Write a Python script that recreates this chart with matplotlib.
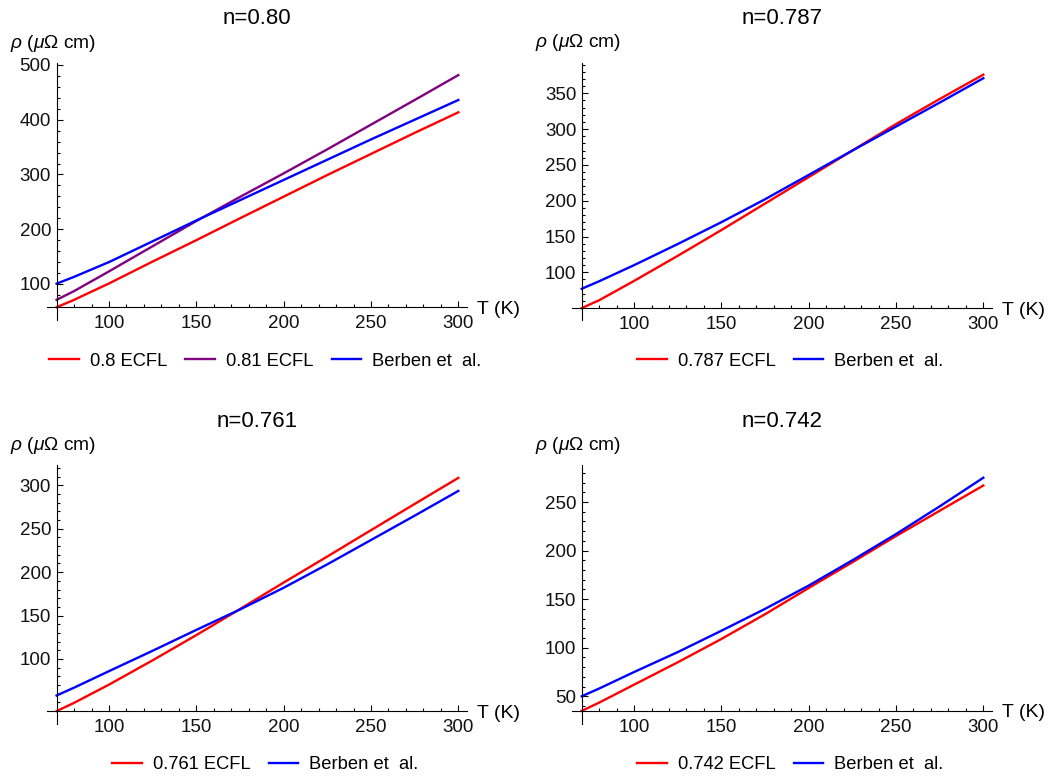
import numpy as np
import matplotlib
matplotlib.use('Agg')
import matplotlib.pyplot as plt
from matplotlib.ticker import FixedLocator

plt.rcParams['font.family'] = ['Liberation Sans', 'DejaVu Sans']
plt.rcParams['mathtext.fontset'] = 'custom'
plt.rcParams['mathtext.rm'] = 'Liberation Sans'
plt.rcParams['mathtext.it'] = 'Liberation Sans:italic'

# temperature grid (K) and resistivity values (micro-ohm cm)
T = [70, 80, 100, 125, 150, 175, 200, 225, 250, 275, 300]

ecfl_080 = [57.5, 71, 101, 141, 180, 220, 259.5, 299, 337.5, 376, 413.5]
ecfl_081 = [71, 87, 123, 169, 215, 259, 302, 346, 391, 436, 481.5]
berben_080 = [100.6, 113, 140, 178, 216, 253, 290, 327, 364, 400, 436]

ecfl_0787 = [50, 61, 88, 123, 159, 196, 233, 270, 307, 342, 376]
berben_0787 = [77, 87.5, 110, 139.5, 170, 202, 236, 270, 303.5, 337, 371]

ecfl_0761 = [40, 49.5, 70.5, 98.5, 127.5, 157.5, 188, 218, 248.3, 278.5, 308.5]
berben_0761 = [58, 67, 86, 109.5, 133.5, 157, 182, 209, 237, 265, 293.5]

ecfl_0742 = [35, 43.5, 62, 85, 109, 134.5, 161.5, 188, 215, 241, 267]
berben_0742 = [50, 58, 75, 95.5, 117.5, 140, 164, 190, 217, 245.5, 275]

titles = ['n=0.80', 'n=0.787', 'n=0.761', 'n=0.742']

RED = '#ff0000'
PURPLE = '#800080'
BLUE = '#0000ff'

W, H = 1051, 776
fig = plt.figure(figsize=(W / 100, H / 100), dpi=100)


def box(l, t, r, b):
    return [l / W, 1 - b / H, (r - l) / W, (b - t) / H]


def fy(y):
    return 1 - y / H


panels = [
    dict(pos=(47, 63, 467.4, 320), ylim=(34.2, 503.6), y0=57.5,
         major=(100, 500, 100), minor=(60, 500, 20),
         series=[(ecfl_080, RED, '0.8 ECFL'), (ecfl_081, PURPLE, '0.81 ECFL'),
                 (berben_080, BLUE, 'Berben et  al.')]),
    dict(pos=(572.1, 62.7, 992.4, 320), ylim=(33.4, 392.7), y0=50,
         major=(100, 350, 50), minor=(60, 390, 10),
         series=[(ecfl_0787, RED, '0.787 ECFL'), (berben_0787, BLUE, 'Berben et  al.')]),
    dict(pos=(47, 465.3, 467.4, 723.7), ylim=(25.5, 323), y0=40,
         major=(100, 300, 50), minor=(50, 320, 10),
         series=[(ecfl_0761, RED, '0.761 ECFL'), (berben_0761, BLUE, 'Berben et  al.')]),
    dict(pos=(572.1, 465.3, 992.4, 723.7), ylim=(21.8, 287.8), y0=35,
         major=(50, 250, 50), minor=(40, 280, 10),
         series=[(ecfl_0742, RED, '0.742 ECFL'), (berben_0742, BLUE, 'Berben et  al.')]),
]

for i, p in enumerate(panels):
    l, t, r, b = p['pos']
    ax = fig.add_axes(box(l, t, r, b))
    for vals, col, lab in p['series']:
        ax.plot(T, vals, color=col, lw=1.7, label=lab)
    ax.set_xlim(64.5, 305.2)
    ax.set_ylim(*p['ylim'])
    ax.patch.set_visible(False)
    ax.spines['top'].set_visible(False)
    ax.spines['right'].set_visible(False)
    ax.spines['left'].set_position(('data', 70))
    ax.spines['bottom'].set_position(('data', p['y0']))
    for s in ('left', 'bottom'):
        ax.spines[s].set_linewidth(0.8)

    ax.xaxis.set_major_locator(FixedLocator([100, 150, 200, 250, 300]))
    ax.xaxis.set_minor_locator(FixedLocator([x for x in range(80, 301, 10) if x % 50]))
    m0, m1, ms = p['major']
    majors = list(range(m0, m1 + 1, ms))
    n0, n1, ns = p['minor']
    ax.yaxis.set_major_locator(FixedLocator(majors))
    ax.yaxis.set_minor_locator(FixedLocator([y for y in range(n0, n1 + 1, ns) if y not in majors]))

    ax.tick_params(which='both', direction='in', width=0.8, color='black',
                   labelsize=13.5, labelcolor='#111111')
    ax.tick_params(which='major', length=4.2)
    ax.tick_params(which='minor', length=2.3)
    ax.tick_params(axis='x', which='major', pad=5.5)
    ax.tick_params(axis='y', which='major', pad=3.9)

    # title, axis labels
    cx = (l + r) / 2
    fig.text(cx / W, fy(t - 44), titles[i], ha='center', va='center', fontsize=16)
    fig.text((l - 37) / W, fy(t - 20), r'$\rho$ ($\mu\Omega$ cm)', ha='left', va='center',
             fontsize=13.8)
    ypix = b - (p['y0'] - p['ylim'][0]) / (p['ylim'][1] - p['ylim'][0]) * (b - t)
    fig.text((r + 10) / W, fy(ypix + 2), 'T (K)', ha='left', va='center', fontsize=14)

    ax.legend(loc='center', bbox_to_anchor=((cx + 8) / W, fy(b + 41)),
              bbox_transform=fig.transFigure, ncol=len(p['series']), frameon=False,
              fontsize=13.2, handlelength=1.6, handletextpad=0.6, columnspacing=1.0)

fig.savefig('out.png', dpi=100)
